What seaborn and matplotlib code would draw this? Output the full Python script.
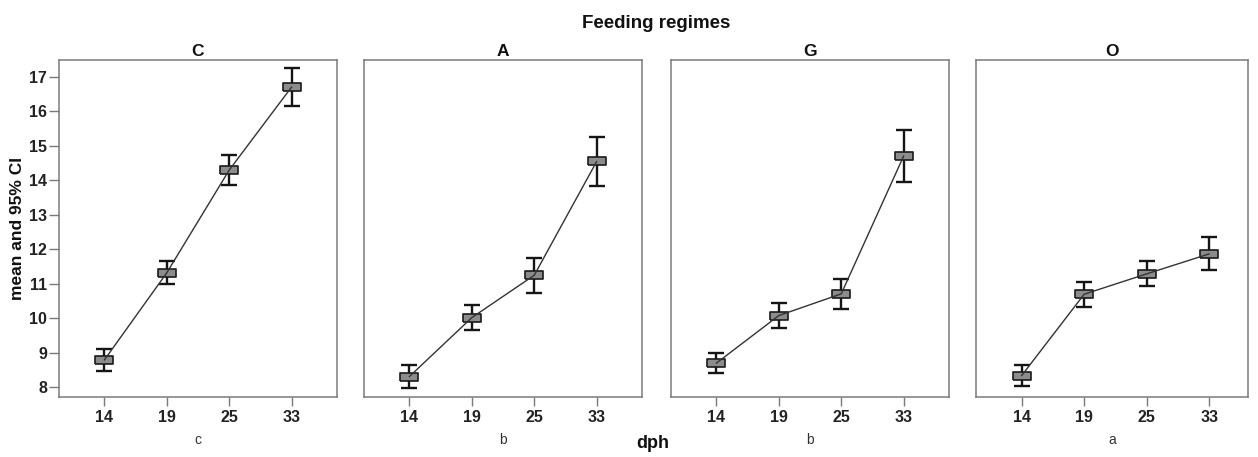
import numpy as np
import pandas as pd
import matplotlib
matplotlib.use("Agg")
import matplotlib.pyplot as plt
import seaborn as sns

# Mean length with 95% CI per feeding regime and age (dph)
regimes = ["C", "A", "G", "O"]
groups = ["c", "b", "b", "a"]
dph = ["14", "19", "25", "33"]

mean_C = [8.78, 11.31, 14.29, 16.70]
lo_C = [8.46, 10.98, 13.85, 16.15]
hi_C = [9.09, 11.64, 14.74, 17.25]

mean_A = [8.30, 10.01, 11.24, 14.54]
lo_A = [7.98, 9.65, 10.73, 13.84]
hi_A = [8.64, 10.37, 11.74, 15.26]

mean_G = [8.69, 10.07, 10.70, 14.70]
lo_G = [8.40, 9.70, 10.27, 13.95]
hi_G = [8.99, 10.43, 11.12, 15.45]

mean_O = [8.33, 10.69, 11.28, 11.86]
lo_O = [8.03, 10.33, 10.93, 11.38]
hi_O = [8.63, 11.04, 11.65, 12.34]

means = [mean_C, mean_A, mean_G, mean_O]
lows = [lo_C, lo_A, lo_G, lo_O]
highs = [hi_C, hi_A, hi_G, hi_O]

sns.set_style("white")
plt.rcParams["font.family"] = ["Liberation Sans", "DejaVu Sans"]

tick_font = dict(family=["Liberation Sans", "DejaVu Sans"], size=11.5)

W, H = 1258, 457
fig = plt.figure(figsize=(W / 100, H / 100), dpi=100)

# panel rectangles in pixels: left, right
panels_px = [(59, 337), (364, 642), (671, 949), (976, 1248)]
top_px, bot_px = 60, 397
xlims = [(-0.725, 3.725)] * 3 + [(-0.73, 3.62)]

box_marker = [(-1, -0.46), (1, -0.46), (1, 0.46), (-1, 0.46), (-1, -0.46)]
spine_col = "#7a7a7a"

for i, reg in enumerate(regimes):
    l, r = panels_px[i]
    ax = fig.add_axes([l / W, 1 - bot_px / H, (r - l) / W, (bot_px - top_px) / H])
    df = pd.DataFrame({
        "pos": np.arange(len(dph)),
        "mean": means[i],
        "lo": lows[i],
        "hi": highs[i],
    })
    sns.lineplot(data=df, x="pos", y="mean", ax=ax, color="#333333",
                 linewidth=1.0, zorder=4)
    ax.errorbar(df["pos"], df["mean"],
                yerr=[df["mean"] - df["lo"], df["hi"] - df["mean"]],
                fmt="none", ecolor="#151515", elinewidth=1.7,
                capsize=5.8, capthick=1.7, zorder=2)
    ax.plot(df["pos"], df["mean"], linestyle="none", marker=box_marker,
            markersize=13, markerfacecolor="#8c8c8c",
            markeredgecolor="#1a1a1a", markeredgewidth=1.2, zorder=3)

    ax.set_xlim(*xlims[i])
    ax.set_ylim(7.71, 17.48)
    ax.set_xticks(np.arange(len(dph)))
    ax.set_xticklabels(dph, fontweight="bold", color="#222222", **tick_font)
    ax.tick_params(axis="x", direction="out", length=6.5, width=1.0,
                   color=spine_col, pad=2.5, bottom=True)
    if i == 0:
        ax.set_yticks(range(8, 18))
        ax.set_yticklabels([str(v) for v in range(8, 18)], fontweight="bold",
                           color="#222222", **tick_font)
        ax.tick_params(axis="y", direction="out", length=7.5, width=1.0,
                       color=spine_col, pad=1, left=True)
        ax.set_ylabel("mean and 95% CI", fontsize=12.5, fontweight="bold",
                      labelpad=3, color="#111111")
    else:
        ax.set_yticks([])
        ax.set_ylabel("")
    ax.set_xlabel(groups[i], fontsize=10, color="#333333", labelpad=6)
    ax.set_title(reg, fontsize=12.5, fontweight="bold", pad=3,
                 color="#111111")
    for s in ax.spines.values():
        s.set_visible(True)
        s.set_color(spine_col)
        s.set_linewidth(1.1)
    ax.grid(False)

fig.text(656 / W, 1 - 23 / H, "Feeding regimes", ha="center", va="center",
         fontsize=13.5, fontweight="bold", color="#111111")
fig.text(653 / W, 1 - 443 / H, "dph", ha="center", va="center",
         fontsize=13, fontweight="bold", color="#111111")

fig.savefig("out.png", dpi=100, facecolor="white")
